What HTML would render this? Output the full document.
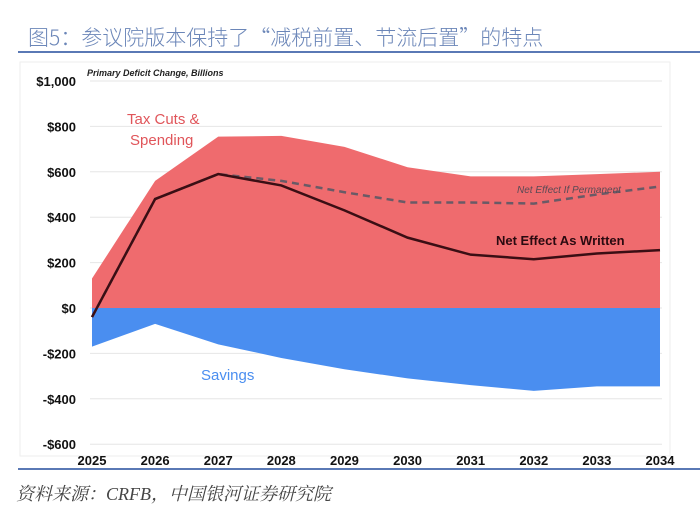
<!DOCTYPE html>
<html><head><meta charset="utf-8"><style>
body{margin:0;background:#fff;width:700px;height:505px;overflow:hidden;font-family:"Liberation Sans","Noto Sans CJK SC",sans-serif}
</style></head><body>
<div style="position:absolute;left:28px;top:22px;font-size:21px;color:#6b86b8;font-family:'Noto Sans CJK SC',sans-serif;font-weight:300">图5：参议院版本保持了“减税前置、节流后置”的特点</div>
<div style="position:absolute;left:18px;top:51px;width:682px;height:2px;background:#5a79b5"></div>
<div style="position:absolute;left:18px;top:468px;width:682px;height:2px;background:#5a79b5"></div>
<div style="position:absolute;left:16px;top:480px;font-size:18px;color:#444;font-style:italic;font-family:'Liberation Serif','Noto Serif CJK SC',serif">资料来源：CRFB，中国银河证券研究院</div>
<svg id="chart" width="700" height="505" style="position:absolute;left:0;top:0"></svg>
<script>
const years=[2025,2026,2027,2028,2029,2030,2031,2032,2033,2034];
const taxCuts=[130,560,755,758,710,620,580,580,590,600];
const savings=[-170,-70,-160,-220,-270,-310,-340,-365,-345,-345];
const netWritten=[-40,480,590,540,430,310,235,215,240,255];
const netPermanent=[-40,480,590,560,510,465,465,460,500,535];
const yTicks=[1000,800,600,400,200,0,-200,-400,-600];
const yLabels=['$1,000','$800','$600','$400','$200','$0','-$200','-$400','-$600'];
const ns='http://www.w3.org/2000/svg',svg=document.getElementById('chart');
const x=i=>92+i*(660-92)/(years.length-1);
const y=v=>308-v*(308-81)/1000;
function el(t,a){const e=document.createElementNS(ns,t);for(const k in a)e.setAttribute(k,a[k]);svg.appendChild(e);return e;}
const bg=el('rect',{x:20,y:62,width:650,height:394,fill:'#fff',stroke:'#eee'});


yTicks.forEach((v,i)=>{
 const g=el('line',{x1:90,x2:662,y1:y(v),y2:y(v),stroke:'#e6e6e6'});
 
 
 const t=el('text',{x:76,y:y(v)+5,'text-anchor':'end','font-size':13,'font-weight':'bold',fill:'#111'});
 t.textContent=yLabels[i];
 
 
});
years.forEach((yr,i)=>{
 const t=el('text',{x:x(i),y:465,'text-anchor':'middle','font-size':13,'font-weight':'bold',fill:'#111'});
 t.textContent=yr;
 
 
});
function area(vals){let d='M'+x(0)+','+y(0);vals.forEach((v,i)=>d+=' L'+x(i)+','+y(v));d+=' L'+x(vals.length-1)+','+y(0)+'Z';return d;}
const a1=el('path',{d:area(taxCuts),fill:'#ef6b6e'});


const a2=el('path',{d:area(savings),fill:'#4a8ef0'});


function line(vals){return vals.map((v,i)=>(i?'L':'M')+x(i)+','+y(v)).join(' ');}
const l2=el('path',{d:line(netPermanent),fill:'none',stroke:'#6a5a66','stroke-width':2.5,'stroke-dasharray':'7,5'});


const l1=el('path',{d:line(netWritten),fill:'none',stroke:'#3a0e14','stroke-width':2.5});


function lbl(txt,xx,yy,sz,fill,name,extra){const t=el('text',Object.assign({x:xx,y:yy,'font-size':sz,fill:fill},extra||{}));t.textContent=txt;

}
lbl('Primary Deficit Change, Billions',87,76,9,'#222','chart-subtitle',{'font-style':'italic','font-weight':'bold'});
lbl('Tax Cuts &',127,124,15,'#e0555a','tax-cuts-label-1');
lbl('Spending',130,145,15,'#e0555a','tax-cuts-label-2');
lbl('Net Effect If Permanent',517,193,10,'#5a4a55','permanent-label',{'font-style':'italic'});
lbl('Net Effect As Written',496,245,13,'#2a0a10','written-label',{'font-weight':'bold'});
lbl('Savings',201,380,15,'#4a8ef0','savings-label');
</script>
</body></html>
